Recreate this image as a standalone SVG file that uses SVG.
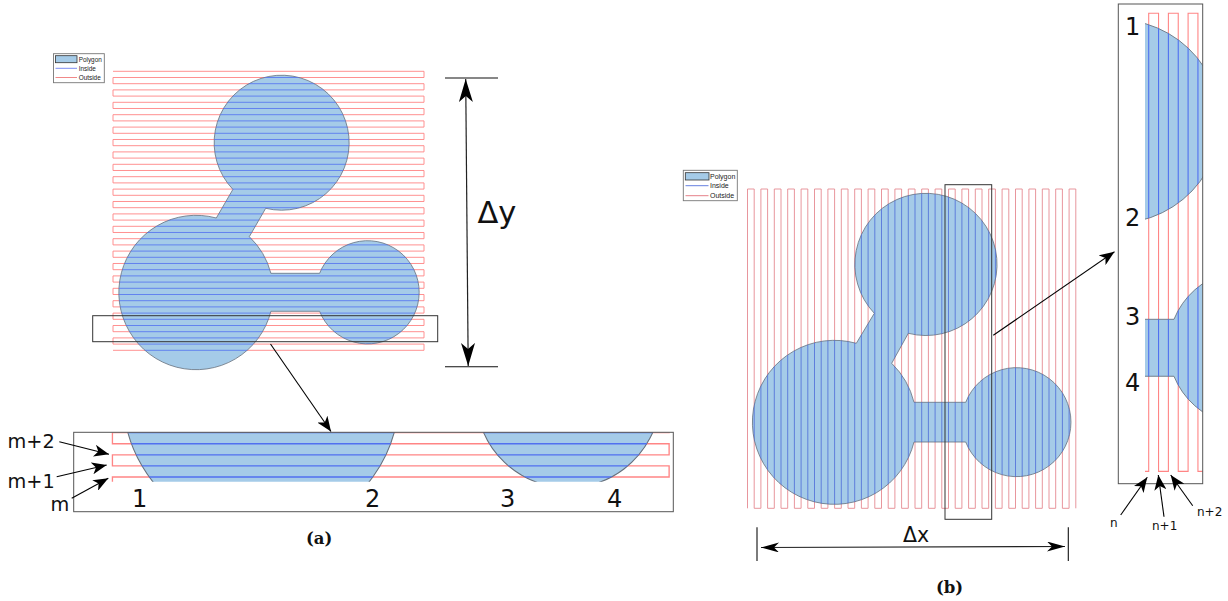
<svg xmlns="http://www.w3.org/2000/svg" xmlns:xlink="http://www.w3.org/1999/xlink" width="1228" height="601" viewBox="0 0 1228 601">
<style>
text{font-family:"DejaVu Sans","Liberation Sans",sans-serif;fill:#111}
.lg{font-family:"Liberation Sans",Arial,sans-serif;fill:#222}
.cap{font-family:"DejaVu Serif","Liberation Serif",serif;font-weight:bold;font-size:16.5px}
.poly{fill:#a5cbe8;stroke:#66707c;stroke-width:.8}
.ra{stroke:#ff8585;stroke-width:.9;fill:none}
.ba{stroke:#5070f0;stroke-width:.8;fill:none}
.rb{stroke:#e58a92;stroke-width:.9;fill:none}
.bb{stroke:#4c6ad8;stroke-width:.8;fill:none}
.box{fill:none;stroke:#333;stroke-width:1}
.dim{fill:none;stroke:#111;stroke-width:1.1}
.arr{fill:none;stroke:#000;stroke-width:1.1;marker-end:url(#ah)}
.arr2{fill:none;stroke:#222;stroke-width:1.2;marker-start:url(#ah2);marker-end:url(#ah2)}
.arr3{fill:none;stroke:#222;stroke-width:1.2;marker-start:url(#ah3);marker-end:url(#ah3)}
.lgbox{fill:#fff;stroke:#777;stroke-width:.9}
</style>
<defs>
<marker id="ah" markerUnits="userSpaceOnUse" markerWidth="16" markerHeight="12" refX="15" refY="6" orient="auto"><path d="M15,6 L0,0 L4,6 L0,12 Z" fill="#000"/></marker>
<marker id="ah2" markerUnits="userSpaceOnUse" markerWidth="24" markerHeight="14" refX="23" refY="7" orient="auto-start-reverse"><path d="M23,7 L0,0 L6,7 L0,14 Z" fill="#000"/></marker>
<marker id="ah3" markerUnits="userSpaceOnUse" markerWidth="19" markerHeight="10" refX="18" refY="5" orient="auto-start-reverse"><path d="M18,5 L0,0 L5,5 L0,10 Z" fill="#000"/></marker>
<path id="pa" d="M232.9,189.4 A67.5,67.5 0 1 1 265.7,208.3 L249.3,236.7 A77.2,77.2 0 0 1 270.9,273.3 L319.6,273.3 A51.6,51.6 0 1 1 319.6,311.3 L270.9,311.3 A77.2,77.2 0 1 1 216.3,218 Z"/>
<path id="pb" d="M874.3,313.3 A71.1,71.1 0 1 1 908.3,333.3 L891.7,363.3 A82,82 0 0 1 914,402.3 L965.7,402.3 A54.5,54.5 0 1 1 965.7,442 L914,442 A82,82 0 1 1 856.3,343.3 Z"/>
<clipPath id="ca"><use xlink:href="#pa"/></clipPath>
<clipPath id="cb"><use xlink:href="#pb"/></clipPath>
<clipPath id="ia"><rect x="74" y="432.5" width="599" height="49.2"/></clipPath>
<clipPath id="ib"><rect x="1145" y="4" width="57.7" height="479.5"/></clipPath>
<path id="sa" d="M113 71.3H424v6.2H113v6.2H424v6.2H113v6.2H424v6.2H113v6.2H424v6.2H113v6.2H424v6.2H113v6.2H424v6.2H113v6.2H424v6.2H113v6.2H424v6.2H113v6.2H424v6.2H113v6.2H424v6.2H113v6.2H424v6.2H113v6.2H424v6.2H113v6.2H424v6.2H113v6.2H424v6.2H113v6.2H424v6.2H113v6.2H424v6.2H113v6.2H424v6.2H113v6.2H424v6.2H113v6.2H424v6.2H113v6.2H424v6.2H113v6.2H424v6.2H113v6.2H424v6.2H113v6.2H424v6.2H113"/>
<path id="sb" d="M747.5 508.3V189h6.7V508.3h6.7V189h6.7V508.3h6.7V189h6.7V508.3h6.7V189h6.7V508.3h6.7V189h6.7V508.3h6.7V189h6.7V508.3h6.7V189h6.7V508.3h6.7V189h6.7V508.3h6.7V189h6.7V508.3h6.7V189h6.7V508.3h6.7V189h6.7V508.3h6.7V189h6.7V508.3h6.7V189h6.7V508.3h6.7V189h6.7V508.3h6.7V189h6.7V508.3h6.7V189h6.7V508.3h6.7V189h6.7V508.3h6.7V189h6.7V508.3h6.7V189h6.7V508.3h6.7V189h6.7V508.3h6.7V189h6.7V508.3h6.7V189h6.7V508.3h6.7V189h6.7V508.3h6.7V189h6.7V508.3h6.7V189h6.7V508.3"/>
</defs>
<rect width="1228" height="601" fill="#fff"/>

<g id="panel-a">
<g id="legend-a">
<rect class="lgbox" x="53.5" y="53.7" width="50.8" height="29"/>
<rect x="55.5" y="55.7" width="21.5" height="7" fill="#a5cbe8" stroke="#333" stroke-width=".8"/>
<text class="lg" x="78.7" y="62" font-size="6.4">Polygon</text>
<line x1="55.5" y1="68.3" x2="77" y2="68.3" stroke="#5a6ff0" stroke-width=".8"/>
<text class="lg" x="78.7" y="70.6" font-size="6.4">Inside</text>
<line x1="55.5" y1="77.5" x2="77" y2="77.5" stroke="#ee6a6a" stroke-width=".8"/>
<text class="lg" x="78.7" y="79.8" font-size="6.4">Outside</text>
</g>
<g id="polygon-a">
<use xlink:href="#sa" class="ra"/>
<use xlink:href="#pa" class="poly"/>
<use xlink:href="#sa" class="ba" clip-path="url(#ca)"/>
</g>
<rect id="zoom-box-a" class="box" x="92.7" y="315.7" width="345" height="26"/>
<g id="inset-a">
<g clip-path="url(#ia)"><g transform="translate(-89.84,-127.8) scale(1.79)">
<use xlink:href="#sa" class="ra" style="stroke-width:.75"/>
<use xlink:href="#pa" class="poly" style="stroke-width:.6"/>
<use xlink:href="#sa" class="ba" style="stroke-width:.75" clip-path="url(#ca)"/>
</g></g>
<rect class="box" x="73.7" y="432.3" width="599.6" height="79.4" style="stroke:#555"/>
<text x="132" y="507" font-size="24">1</text>
<text x="365" y="507" font-size="24">2</text>
<text x="500" y="507" font-size="24">3</text>
<text x="607" y="507" font-size="24">4</text>
<text x="7.5" y="447.7" font-size="19.3">m+2</text>
<text x="7.5" y="487.7" font-size="19.3">m+1</text>
<text x="50.5" y="511" font-size="19.3">m</text>
</g>
<text id="dy-label" x="477.5" y="222.7" font-size="30.5">Δy</text>
<text class="cap" x="306" y="544">(a)</text>
</g>

<g id="panel-b">
<g id="legend-b">
<rect class="lgbox" x="683.3" y="170.3" width="54" height="30.4"/>
<rect x="685.3" y="172.7" width="23.7" height="7.3" fill="#a5cbe8" stroke="#333" stroke-width=".8"/>
<text class="lg" x="710" y="178.8" font-size="7">Polygon</text>
<line x1="685.5" y1="185.7" x2="708.5" y2="185.7" stroke="#3f5fd8" stroke-width=".8"/>
<text class="lg" x="710" y="188.3" font-size="7">Inside</text>
<line x1="685.5" y1="195.7" x2="708.5" y2="195.7" stroke="#dd5f6a" stroke-width=".8"/>
<text class="lg" x="710" y="198.3" font-size="7">Outside</text>
</g>
<g id="polygon-b">
<use xlink:href="#sb" class="rb"/>
<use xlink:href="#pb" class="poly"/>
<use xlink:href="#sb" class="bb" clip-path="url(#cb)"/>
</g>
<rect id="zoom-box-b" class="box" x="945" y="184.7" width="46.7" height="334.6"/>
<g id="inset-b">
<g clip-path="url(#ib)"><g transform="translate(-245.6,-258) scale(1.47,1.435)">
<use xlink:href="#sb" style="stroke:#ff8585;stroke-width:.75;fill:none"/>
<use xlink:href="#pb" class="poly" style="stroke-width:.6"/>
<use xlink:href="#sb" style="stroke:#5070f0;stroke-width:.75;fill:none" clip-path="url(#cb)"/>
</g></g>
<rect class="box" x="1118.3" y="4" width="84.4" height="479.7" style="stroke:#555"/>
<text x="1125" y="35" font-size="24">1</text>
<text x="1125" y="226" font-size="24">2</text>
<text x="1125" y="325" font-size="24">3</text>
<text x="1125" y="391" font-size="24">4</text>
<text x="1110" y="527" font-size="12">n</text>
<text x="1152" y="530" font-size="12">n+1</text>
<text x="1197" y="516" font-size="12">n+2</text>
</g>
<text id="dx-label" x="903" y="542" font-size="20.5">Δx</text>
<text class="cap" x="936" y="593">(b)</text>
</g>

<g id="connectors">
<path class="arr" d="M270.5,344L331,431.5"/>
<path class="dim" d="M445,78H498M445,366.7H498"/>
<path class="arr2" d="M465.7,79L468.2,366"/>
<path class="arr" d="M59.3,441.7L109,454.3"/>
<path class="arr" d="M56.7,476.7L106.7,465"/>
<path class="arr" d="M71.7,498.3L108.3,478.3"/>
<path class="arr" d="M993.3,335.3L1114.5,251.7"/>
<path class="dim" d="M757,527.3V561M1068.3,527.3V561"/>
<path class="arr3" d="M761,547.5L1065,546.5"/>
<path class="arr" d="M1120.7,515L1147.3,477.3"/>
<path class="arr" d="M1164,516.7L1158.3,475"/>
<path class="arr" d="M1192.7,505.7L1170.7,475"/>
</g>
</svg>
